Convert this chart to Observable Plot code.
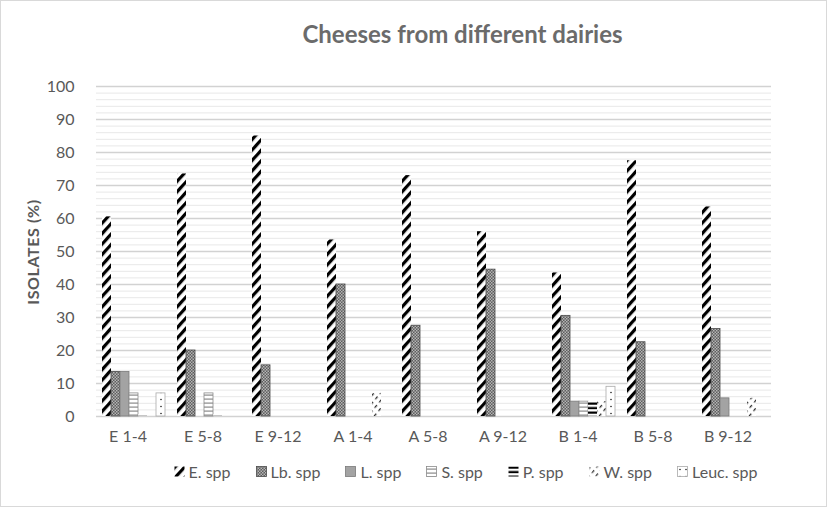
<!DOCTYPE html>
<html><head><meta charset="utf-8">
<script src="https://cdn.jsdelivr.net/npm/d3@7"></script>
<script src="https://cdn.jsdelivr.net/npm/@observablehq/plot@0.6"></script>
<style>
body{margin:0;background:#fff;font-family:Lato,"Open Sans",sans-serif;}
#chart{width:825px;height:505px;border:1px solid #d9d9d9;position:relative;overflow:hidden;background:#fff}
#title{position:absolute;left:0;right:0;top:18px;padding-left:98px;text-align:center;font-weight:bold;font-size:24px;color:#6b6b6b}
#ylabel{position:absolute;left:31px;top:251px;transform:translate(-50%,-50%) rotate(-90deg);font-weight:bold;font-size:16px;letter-spacing:0.6px;color:#595959;white-space:nowrap}
#plot{position:absolute;left:0;top:59px}
#legend{position:absolute;left:0;right:0;top:461px;padding-left:104px;display:flex;justify-content:center;gap:25px;font-size:16px;color:#595959}
#legend span.it{display:flex;align-items:center;gap:4px}
</style></head>
<body>
<svg width="0" height="0" style="position:absolute">
<defs>
<pattern id="pE" width="7" height="7" patternUnits="userSpaceOnUse" patternTransform="rotate(42)"><rect width="7" height="7" fill="#fff"/><rect width="3.2" height="7" fill="#000"/></pattern>
<pattern id="pLb" width="3" height="3" patternUnits="userSpaceOnUse"><rect width="3" height="3" fill="#5e5e5e"/><rect width="1.5" height="1.5" fill="#b5b5b5"/><rect x="1.5" y="1.5" width="1.5" height="1.5" fill="#b5b5b5"/></pattern>
<pattern id="pL" width="4" height="4" patternUnits="userSpaceOnUse"><rect width="4" height="4" fill="#a3a3a3"/></pattern>
<pattern id="pS" width="4" height="4" patternUnits="userSpaceOnUse"><rect width="4" height="4" fill="#fff"/><rect y="2.5" width="4" height="1.2" fill="#8a8a8a"/></pattern>
<pattern id="pP" width="4" height="4.5" patternUnits="userSpaceOnUse"><rect width="4" height="4.5" fill="#fff"/><rect y="0.5" width="4" height="2.2" fill="#000"/></pattern>
<pattern id="pW" width="5" height="7" patternUnits="userSpaceOnUse" patternTransform="rotate(40)"><rect width="5" height="7" fill="#fff"/><rect x="1" width="1.3" height="3.5" fill="#333"/></pattern>
<pattern id="pLeuc" width="6" height="7" patternUnits="userSpaceOnUse"><rect width="6" height="7" fill="#fff"/><circle cx="3" cy="3.5" r="0.8" fill="#222"/></pattern>
</defs>
</svg>
<div id="chart">
  <div id="title">Cheeses from different dairies</div>
  <div id="ylabel">ISOLATES (%)</div>
  <div id="plot"></div>
  <div id="legend"></div>
</div>
<script>
const groups = ["E 1-4","E 5-8","E 9-12","A 1-4","A 5-8","A 9-12","B 1-4","B 5-8","B 9-12"];
const species = ["E. spp","Lb. spp","L. spp","S. spp","P. spp","W. spp","Leuc. spp"];
const eSpp    = [60.5, 73.5, 85, 53.5, 73, 56, 43.5, 77.5, 63.5];
const lbSpp   = [13.5, 20, 15.5, 40, 27.5, 44.5, 30.5, 22.5, 26.5];
const lSpp    = [13.5, 0, 0, 0, 0, 0, 4.5, 0, 5.5];
const sSpp    = [7, 7, 0, 0, 0, 0, 4.5, 0, 0];
const pSpp    = [0.5, 0.5, 0, 0, 0, 0, 4.5, 0, 0];
const wSpp    = [0, 0, 0, 7, 0, 0, 4.5, 0, 5.5];
const leucSpp = [7, 0, 0, 0, 0, 0, 9, 0, 0];
const yTicks = [0,10,20,30,40,50,60,70,80,90,100];

const seriesValues = [eSpp, lbSpp, lSpp, sSpp, pSpp, wSpp, leucSpp];
const fills = ["url(#pE)","url(#pLb)","url(#pL)","url(#pS)","url(#pP)","url(#pW)","url(#pLeuc)"];
const strokes = ["none","#4a4a4a","#7a7a7a","#8a8a8a","none","none","#aaaaaa"];

const data = [];
species.forEach((s, si) => groups.forEach((g, gi) => data.push({group: g, series: s, value: seriesValues[si][gi]})));

const minor = d3.range(0, 101, 2).filter(v => v % 10 !== 0);

const marks = [
  Plot.ruleY(minor, {stroke: "#e8e8e8", strokeWidth: 1}),
  Plot.ruleY(yTicks, {stroke: "#d2d2d2", strokeWidth: 1.4}),
  Plot.axisY({ticks: yTicks, tickSize: 0, tickPadding: 22, fontSize: 16, fill: "#595959", label: null}),
  Plot.axisFx({anchor: "bottom", tickSize: 0, tickPadding: 14, fontSize: 16, fill: "#595959", label: null, dx: -6}),
  Plot.axisX({ticks: [], label: null})
];
species.forEach((s, si) => {
  marks.push(Plot.barY(data.filter(d => d.series === s), {
    fx: "group", x: "series", y: "value",
    fill: fills[si], stroke: strokes[si], strokeWidth: 0.8
  }));
});

const chart = Plot.plot({
  width: 825, height: 395,
  marginTop: 26, marginBottom: 39, marginLeft: 94, marginRight: 55,
  style: {fontFamily: "Lato, 'Open Sans', sans-serif", background: "transparent"},
  fx: {domain: groups, padding: 0, label: null},
  x: {domain: species, paddingInner: 0, paddingOuter: 0.55, axis: null},
  y: {domain: [0, 100], label: null},
  marks
});
document.getElementById("plot").appendChild(chart);

const legend = document.getElementById("legend");
species.forEach((s, si) => {
  const it = document.createElement("span");
  it.className = "it";
  it.innerHTML = `<svg width="11" height="11"><rect x="0.5" y="0.5" width="10" height="10" fill="${fills[si]}" stroke="${strokes[si] === 'none' ? 'none' : strokes[si]}" stroke-width="0.8"/></svg><span>${s}</span>`;
  legend.appendChild(it);
});
</script>
</body></html>
